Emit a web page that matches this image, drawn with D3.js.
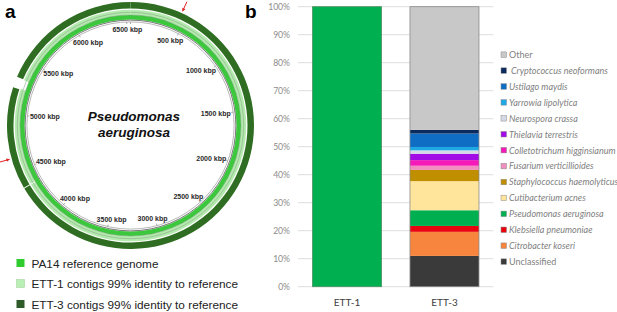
<!DOCTYPE html>
<html>
<head>
<meta charset="utf-8">
<script src="https://cdn.jsdelivr.net/npm/d3@7"></script>
<style>
  body { margin: 0; background: #fff; }
  svg { display: block; }
</style>
</head>
<body>
<div id="canvas"></div>
<script>
"use strict"

let svgWidth = 617;
let svgHeight = 312;

/* Panel a data: genome ring */
let genomeLength = 6538; // kbp, PA14
let kbpTicks = [500, 1000, 1500, 2000, 2500, 3000, 3500, 4000, 4500, 5000, 5500, 6000, 6500];
let refCoverage = [[0, 6538]];
let ett1Coverage = [[0, 4346], [4354, 5238], [5322, 6538]];
let ett3Coverage = [[0, 4346], [4354, 5232], [5326, 6538]];
let arrowKbp = [445, 4620];
let ringLegend = ["PA14 reference genome", "ETT-1 contigs 99% identity to reference", "ETT-3 contigs 99% identity to reference"];

/* Panel b data: stacked bars */
let samples = ["ETT-1", "ETT-3"];
let taxa = ["Unclassified", "Citrobacter koseri", "Klebsiella pneumoniae", "Pseudomonas aeruginosa",
            "Cutibacterium acnes", "Staphylococcus haemolyticus", "Fusarium verticillioides",
            "Colletotrichum higginsianum", "Thielavia terrestris", "Neurospora crassa",
            "Yarrowia lipolytica", "Ustilago maydis", "Cryptococcus neoformans", "Other"];
let ett1Values = [0, 0, 0, 100, 0, 0, 0, 0, 0, 0, 0, 0, 0, 0];
let ett3Values = [11.0, 8.6, 2.1, 5.6, 10.4, 4.0, 1.5, 2.0, 2.3, 1.2, 1.2, 4.8, 1.3, 44.0];
let percentTicks = [0, 10, 20, 30, 40, 50, 60, 70, 80, 90, 100];

let taxaColors = ["#3a3a3a", "#f7853e", "#e8030f", "#00b050", "#ffe59c", "#bf8f00", "#f08fbf",
                  "#f51ab8", "#a20ae6", "#d3dae6", "#1fa8e6", "#0f6ec4", "#0b2a5e", "#c8c8c9"];

/* Create drawing canvas */
let svg = d3.select("#canvas")
    .append("svg")
    .attr("width", svgWidth)
    .attr("height", svgHeight);

/* ---------------- Panel a ---------------- */
let cx = 130.5, cy = 125.5;
let angle = d3.scaleLinear().domain([0, genomeLength]).range([0, 2 * Math.PI]);

let ringG = svg.append("g").attr("transform", `translate(${cx},${cy})`);

function drawRing(segments, r0, r1, color) {
    let arc = d3.arc().innerRadius(r0).outerRadius(r1);
    ringG.selectAll(null)
        .data(segments)
        .join("path")
        .attr("d", d => arc({startAngle: angle(d[0]), endAngle: angle(d[1])}))
        .attr("fill", color);
}

drawRing(ett3Coverage, 117, 123.5, "#2f6e22");
drawRing(ett1Coverage, 110.5, 115.8, "#b4eaae");
drawRing(refCoverage, 106, 110.5, "#3cc83c");

/* thin grey circles */
[[113.2, "#8aa88a", 0.6], [110.5, "#7a9a7a", 0.5], [105.4, "#555", 0.8], [103.6, "#888", 0.6]].forEach(function(c) {
    ringG.append("circle")
        .attr("r", c[0])
        .attr("fill", "none")
        .attr("stroke", c[1])
        .attr("stroke-width", c[2]);
});

/* kbp labels */
ringG.selectAll("text.kbp")
    .data(kbpTicks)
    .join("text")
    .attr("class", "kbp")
    .attr("x", d => {
        let a = angle(d);
        return 100 * Math.sin(a) - 14 * Math.sin(a);
    })
    .attr("y", d => {
        let a = angle(d);
        return -100 * Math.cos(a) + 4 * Math.cos(a) + 2.5;
    })
    .attr("text-anchor", "middle")
    .attr("font-family", "Liberation Sans, Arial, sans-serif")
    .attr("font-size", 7)
    .attr("font-weight", "bold")
    .attr("fill", "#2a2a2a")
    .text(d => d + " kbp");

/* small ticks on inner backbone */
ringG.selectAll("line.tick")
    .data(kbpTicks.concat([0]))
    .join("line")
    .attr("class", "tick")
    .attr("x1", d => 103.6 * Math.sin(angle(d)))
    .attr("y1", d => -103.6 * Math.cos(angle(d)))
    .attr("x2", d => 101.5 * Math.sin(angle(d)))
    .attr("y2", d => -101.5 * Math.cos(angle(d)))
    .attr("stroke", "#777")
    .attr("stroke-width", 0.6);

/* red arrows pointing at the ring */
arrowKbp.forEach(function(k) {
    let a = angle(k);
    let tipR = 125.5, tailR = 136;
    let x1 = tailR * Math.sin(a), y1 = -tailR * Math.cos(a);
    let x2 = tipR * Math.sin(a), y2 = -tipR * Math.cos(a);
    ringG.append("line")
        .attr("x1", x1).attr("y1", y1)
        .attr("x2", x2).attr("y2", y2)
        .attr("stroke", "#e02020")
        .attr("stroke-width", 1);
    let ux = Math.sin(a), uy = -Math.cos(a);
    let px = -uy, py = ux;
    let hb = 3.2, hw = 1.8;
    ringG.append("path")
        .attr("d", `M${x2},${y2} L${x2 + ux * hb + px * hw},${y2 + uy * hb + py * hw} L${x2 + ux * hb - px * hw},${y2 + uy * hb - py * hw} Z`)
        .attr("fill", "#e02020");
});

/* center title */
ringG.append("text")
    .attr("x", 3.5).attr("y", -5)
    .attr("text-anchor", "middle")
    .attr("font-family", "Liberation Sans, Arial, sans-serif")
    .attr("font-size", 13.5)
    .attr("font-weight", "bold")
    .attr("font-style", "italic")
    .attr("fill", "#111")
    .text("Pseudomonas");
ringG.append("text")
    .attr("x", 3.5).attr("y", 11)
    .attr("text-anchor", "middle")
    .attr("font-family", "Liberation Sans, Arial, sans-serif")
    .attr("font-size", 13.5)
    .attr("font-weight", "bold")
    .attr("font-style", "italic")
    .attr("fill", "#111")
    .text("aeruginosa");

/* ring legend */
let ringLegendColors = ["#2ecc2e", "#b9efb4", "#2f5a2a"];
ringLegend.forEach(function(label, i) {
    svg.append("rect")
        .attr("x", 16.5)
        .attr("y", 259 + i * 20.5)
        .attr("width", 8)
        .attr("height", 8)
        .attr("fill", ringLegendColors[i])
        .attr("stroke", i == 1 ? "#9ccf96" : "none")
        .attr("stroke-width", 0.5);
    svg.append("text")
        .attr("x", 31.5)
        .attr("y", 267.5 + i * 20.5)
        .attr("font-family", "Liberation Sans, Arial, sans-serif")
        .attr("font-size", 11.8)
        .attr("fill", "#222")
        .text(label);
});

/* panel letters */
svg.append("text")
    .attr("x", 5).attr("y", 18)
    .attr("font-family", "Liberation Sans, Arial, sans-serif")
    .attr("font-size", 19)
    .attr("font-weight", "bold")
    .text("a");
svg.append("text")
    .attr("x", 245).attr("y", 18)
    .attr("font-family", "Liberation Sans, Arial, sans-serif")
    .attr("font-size", 19)
    .attr("font-weight", "bold")
    .text("b");

/* ---------------- Panel b ---------------- */
let table = samples.map(function(s, i) {
    let row = {sample: s};
    let vals = i == 0 ? ett1Values : ett3Values;
    taxa.forEach((t, j) => row[t] = vals[j]);
    return row;
});

let series = d3.stack().keys(taxa)(table);

let xScale = d3.scaleBand()
    .domain(samples)
    .range([298, 493.5])
    .paddingInner(0.292)
    .paddingOuter(0.149);

let yScale = d3.scaleLinear()
    .domain([0, 100])
    .range([286.7, 6.7]);

/* gridlines */
svg.selectAll("line.grid")
    .data(percentTicks)
    .join("line")
    .attr("class", "grid")
    .attr("x1", 298)
    .attr("x2", 493.5)
    .attr("y1", d => yScale(d))
    .attr("y2", d => yScale(d))
    .attr("stroke", "#dedede")
    .attr("stroke-width", 1);

/* y axis */
let yAxis = svg.append("g")
    .attr("transform", "translate(292,0)")
    .call(d3.axisLeft(yScale).tickValues(percentTicks).tickSize(0).tickPadding(2).tickFormat(d => d + "%"));
yAxis.select(".domain").remove();
yAxis.selectAll("text")
    .attr("font-family", "Lato, sans-serif")
    .attr("font-size", 8.6)
    .attr("fill", "#8c8c8c");

/* bars */
svg.append("g")
    .selectAll("g")
    .data(series)
    .join("g")
    .attr("fill", (d, i) => taxaColors[i])
    .selectAll("rect")
    .data(d => d.filter(p => p[1] > p[0]))
    .join("rect")
    .attr("x", d => xScale(d.data.sample))
    .attr("y", d => yScale(d[1]))
    .attr("width", xScale.bandwidth())
    .attr("height", d => yScale(d[0]) - yScale(d[1]));

/* bar outlines */
svg.selectAll("rect.outline")
    .data(samples)
    .join("rect")
    .attr("class", "outline")
    .attr("x", d => xScale(d))
    .attr("y", yScale(100))
    .attr("width", xScale.bandwidth())
    .attr("height", yScale(0) - yScale(100))
    .attr("fill", "none")
    .attr("stroke", (d, i) => i == 0 ? "#4d8f62" : "#8a8a8a")
    .attr("stroke-width", 0.8);

/* x labels */
svg.selectAll("text.xlab")
    .data(samples)
    .join("text")
    .attr("class", "xlab")
    .attr("x", d => xScale(d) + xScale.bandwidth() / 2)
    .attr("y", 305.5)
    .attr("text-anchor", "middle")
    .attr("font-family", "Lato, sans-serif")
    .attr("font-size", 10)
    .attr("fill", "#404040")
    .text(d => d);

/* legend, top row = last series */
let legendOrder = taxa.slice().reverse();
legendOrder.forEach(function(t, i) {
    let ci = taxa.length - 1 - i;
    let y = 54.7 + i * 15.92;
    svg.append("rect")
        .attr("x", 501)
        .attr("y", y - 2.8)
        .attr("width", 5.5)
        .attr("height", 5.5)
        .attr("fill", taxaColors[ci])
        .attr("stroke", "#8a8a8a")
        .attr("stroke-width", 0.5);
    let plain = (t == "Other" || t == "Unclassified");
    svg.append("text")
        .attr("x", t == "Cryptococcus neoformans" ? 511 : 509)
        .attr("y", y + 3.3)
        .attr("font-family", "Lato, sans-serif")
        .attr("font-size", 9)
        .attr("font-style", plain ? "normal" : "italic")
        .attr("fill", "#7f7f7f")
        .text(t);
});
</script>
</body>
</html>
